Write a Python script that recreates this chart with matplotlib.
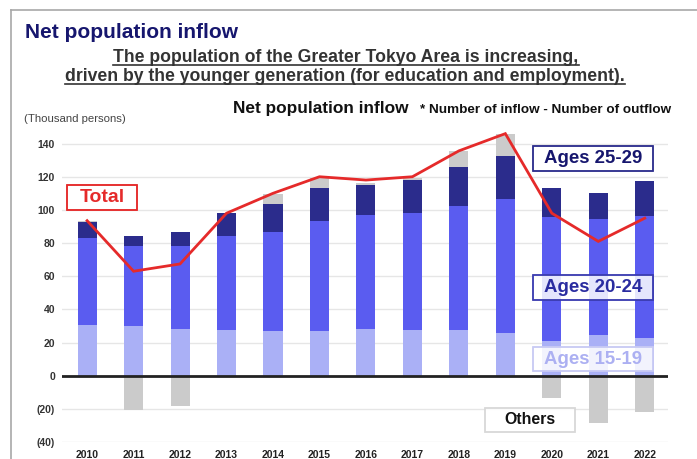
import matplotlib
matplotlib.use("Agg")
import matplotlib.pyplot as plt
from matplotlib.lines import Line2D
from matplotlib.patches import Rectangle
import numpy as np

plt.rcParams['font.family'] = ['Liberation Sans', 'DejaVu Sans']

# Net population inflow into the Greater Tokyo Area (thousand persons)
years = ["2010", "2011", "2012", "2013", "2014", "2015", "2016",
         "2017", "2018", "2019", "2020", "2021", "2022"]
ages_15_19 = [30.6, 30.0, 28.0, 27.4, 26.8, 27.0, 28.4, 27.4, 27.4, 26.0, 21.0, 24.4, 22.8]
ages_20_24 = [52.2, 48.4, 50.4, 57.0, 59.8, 66.6, 68.6, 70.6, 74.8, 80.8, 74.6, 70.0, 73.6]
ages_25_29 = [9.8, 6.0, 8.2, 14.0, 17.0, 19.8, 18.0, 20.0, 23.4, 26.0, 17.4, 16.0, 21.2]
others = [0.8, -20.4, -18.0, 0.0, 6.0, 6.0, 1.5, 1.0, 10.0, 13.0, -13.6, -28.4, -22.0]
total = [93.5, 63.0, 67.4, 98.0, 110.0, 120.0, 118.0, 120.0, 135.6, 146.0, 98.0, 81.0, 95.0]
ytick_values = [-40, -20, 0, 20, 40, 60, 80, 100, 120, 140]

C_1519 = "#aab0f6"
C_2024 = "#5a5cf0"
C_2529 = "#2b2c8c"
C_OTH = "#cbcbcb"
C_TOTAL = "#e52a2a"
NAVY = "#16166e"

W, H = 697, 459
fig = plt.figure(figsize=(W / 100, H / 100), dpi=100)
fig.patch.set_facecolor("white")


def fx(px):
    return px / W


def fy(py):
    return 1 - py / H


# outer frame (top and left edges)
fig.add_artist(Line2D([fx(11), 1.0], [fy(10), fy(10)], color="#a8a8a8", lw=1.2))
fig.add_artist(Line2D([fx(11), fx(11)], [0, fy(10)], color="#a8a8a8", lw=1.2))

ax = fig.add_axes([fx(62), fy(442), (668 - 62) / W, (442 - 127) / H])
x = np.arange(len(years))
bw = 0.41

a = np.array(ages_15_19)
b = np.array(ages_20_24)
c = np.array(ages_25_29)
o = np.array(others)
ax.bar(x, a, bw, color=C_1519, zorder=2)
ax.bar(x, b, bw, bottom=a, color=C_2024, zorder=2)
ax.bar(x, c, bw, bottom=a + b, color=C_2529, zorder=2)
pos_o = np.where(o > 0, o, 0)
neg_o = np.where(o < 0, o, 0)
ax.bar(x, pos_o, bw, bottom=a + b + c, color=C_OTH, zorder=2)
ax.bar(x, neg_o, bw, color=C_OTH, zorder=2)

ax.plot(x, total, color=C_TOTAL, lw=2, zorder=4, solid_joinstyle="miter")

ax.set_xlim(-0.54, 12.5)
ax.set_ylim(-40, 150)
ax.set_yticks(ytick_values)
ax.set_yticklabels([f"({-v})" if v < 0 else f"{v}" for v in ytick_values],
                   fontsize=7.5, fontweight="bold", color="#333333")
ax.set_xticks(x)
ax.set_xticklabels(years, fontsize=7.5, fontweight="bold", color="#222222")
ax.tick_params(axis="both", length=0)
ax.tick_params(axis="y", pad=5)
ax.tick_params(axis="x", pad=6)
for s in ax.spines.values():
    s.set_visible(False)
ax.grid(axis="y", color="#e6e6e6", lw=1, zorder=0)
ax.axhline(0, color="#222222", lw=2, zorder=3)


# series labels in boxes (pixel extents of each box)
def boxed(x0, x1, y0, y1, text, tcolor, ecolor, size, alpha=0.85):
    fig.add_artist(Rectangle((fx(x0), fy(y1)), (x1 - x0) / W, (y1 - y0) / H,
                             transform=fig.transFigure, fc="white", ec=ecolor,
                             lw=1.1, alpha=alpha, zorder=9))
    fig.add_artist(Rectangle((fx(x0), fy(y1)), (x1 - x0) / W, (y1 - y0) / H,
                             transform=fig.transFigure, fill=False, ec=ecolor,
                             lw=1.1, zorder=9))
    fig.text(fx((x0 + x1) / 2), fy((y0 + y1) / 2), text, ha="center", va="center",
             fontsize=size, fontweight="bold", color=tcolor, zorder=10)


boxed(67, 137, 185, 210, "Total", C_TOTAL, C_TOTAL, 14, alpha=1.0)
boxed(533, 653, 146, 171, "Ages 25-29", NAVY, "#2b2c8c", 13.4)
boxed(533, 653, 275, 300, "Ages 20-24", "#2a2ca0", "#3b3cb0", 13.4)
boxed(533, 653, 347, 371, "Ages 15-19", "#acb0f2", "#c8caf4", 13.4)
boxed(485, 575, 408, 432, "Others", "#111111", "#d8d8d8", 11.4)

# headings
fig.text(fx(25), fy(32), "Net population inflow", ha="left", va="center",
         fontsize=15, fontweight="bold", color=NAVY)
sub1 = fig.text(fx(346), fy(61.5),
                "The population of the Greater Tokyo Area is increasing,",
                ha="center", va="baseline", fontsize=12.7, fontweight="bold", color="#333333")
sub2 = fig.text(fx(345), fy(81),
                "driven by the younger generation (for education and employment).",
                ha="center", va="baseline", fontsize=12.7, fontweight="bold", color="#333333")
fig.text(fx(233), fy(109), "Net population inflow", ha="left", va="center",
         fontsize=12.4, fontweight="bold", color="#111111")
fig.text(fx(420), fy(110), "* Number of inflow - Number of outflow", ha="left",
         va="center", fontsize=9.7, fontweight="bold", color="#111111")
fig.text(fx(24), fy(119), "(Thousand persons)", ha="left", va="center",
         fontsize=8.2, color="#444444")

# underline the subtitle lines just below their baselines
fig.canvas.draw()
r = fig.canvas.get_renderer()
for t, uy in ((sub1, 64.5), (sub2, 84)):
    bb = t.get_window_extent(renderer=r)
    fig.add_artist(Line2D([bb.x0 / W, bb.x1 / W], [fy(uy), fy(uy)],
                          color="#333333", lw=1.2))

fig.savefig("out.png", dpi=100, facecolor="white")
